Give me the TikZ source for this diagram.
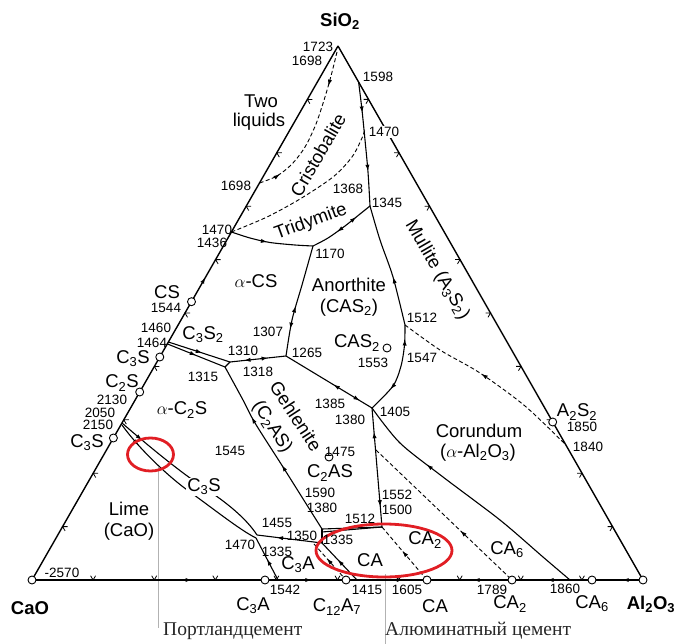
\documentclass[tikz,border=0pt]{standalone}
\usepackage{fontspec}
\setmainfont{Liberation Sans}
\newfontfamily\rufont{Liberation Serif}
\usetikzlibrary{arrows.meta,decorations.markings,calc}
\definecolor{ringred}{RGB}{225,30,36}
\newcommand\edgetick[3]{\draw[tickline] (#1) ++(#2) -- (#1) -- ++(#3);}
\begin{document}
\begin{tikzpicture}[x=1pt,y=-1pt,
  >={Latex[length=6.5pt,width=4.2pt]},
  edge/.style={line width=1.4pt},
  ln/.style={line width=1.1pt},
  dsh/.style={line width=0.9pt,dash pattern=on 4pt off 2.5pt},
  tickline/.style={line width=0.8pt},
  arr/.style={postaction={decorate,decoration={markings,mark=at position #1 with {\arrow{>}}}}},
  rarr/.style={postaction={decorate,decoration={markings,mark=at position #1 with {\arrowreversed{>}}}}},
  num/.style={font=\fontsize{13.5}{13.5}\selectfont,inner sep=0pt},
  lbl/.style={font=\fontsize{18.5}{18.5}\selectfont,inner sep=0pt},
  bld/.style={font=\fontsize{18.5}{18.5}\selectfont\bfseries,inner sep=0pt},
  ru/.style={font=\fontsize{19.5}{19.5}\selectfont\rufont,text=black!85,inner sep=0pt},
  pt/.style={circle,draw,fill=white,line width=0.9pt,minimum size=8pt,inner sep=0pt},
  ring/.style={draw=ringred,line width=2.8pt},
  guide/.style={draw=black!30,line width=0.8pt}]
\useasboundingbox (0,0) rectangle (677,644);

% ---- coordinates
\coordinate (C) at (32,580);
\coordinate (A) at (643,580);
\coordinate (S) at (338,46);
\coordinate (p1698L) at (259.5,183);
\coordinate (p1470L) at (231.4,232);
\coordinate (nCS) at (191.5,301.7);
\coordinate (p1464) at (168.4,342);
\coordinate (p1464b) at (167.5,344);
\coordinate (nC3Sb) at (159.8,357);
\coordinate (nC2S) at (139.7,392);
\coordinate (p2050) at (122,423);
\coordinate (p2050b) at (122,425);
\coordinate (nC3S) at (113.4,438);
\coordinate (p1598) at (358.6,82);
\coordinate (nA2S2) at (552.7,422);
\coordinate (p1840) at (565.9,445);
\coordinate (p1345) at (370,206);
\coordinate (p1170) at (313,246);
\coordinate (p1265) at (286,356);
\coordinate (p1310) at (230,362);
\coordinate (p1315) at (225,367);
\coordinate (p1512) at (405,325);
\coordinate (p1405) at (372,408);
\coordinate (p1475) at (376,450);
\coordinate (p1500) at (382,527);
\coordinate (p1590) at (322,529);
\coordinate (p1590b) at (322,532);
\coordinate (p1350) at (322,543);
\coordinate (p1455) at (257,535);
\coordinate (p1470b) at (256,538);
\coordinate (p1542) at (278,580);
\coordinate (p1415) at (357,580);
\coordinate (p1860) at (570,580);
\coordinate (nC3A) at (265,580);
\coordinate (nC12A7) at (346,580);
\coordinate (nCA) at (427,580);
\coordinate (nCA2) at (512,580);
\coordinate (nCA6) at (592,580);
\coordinate (nCAS2) at (387,348);
\coordinate (nC2AS) at (329,457);
\coordinate (d6s) at (314,544);
\coordinate (gp1) at (158,467);
\coordinate (gp2) at (158,628);
\coordinate (ga1) at (385,574);
\coordinate (ga2) at (385,644);

% ---- guide lines
\draw[guide] (gp1) -- (gp2);
\draw[guide] (ga1) -- (ga2);

% ---- triangle edges
\draw[edge,arr=0.567] (C) -- (S);
\draw[edge] (S) -- (A);
\draw[edge,arr=0.262,arr=0.458,rarr=0.589,rarr=0.722,rarr=0.843,rarr=0.966] (C) -- (A);
\foreach \k in {1,...,9}{
  \edgetick{$(C)!\k/10!(S)$}{5,0}{2.5,4.3}
  \edgetick{$(S)!\k/10!(A)$}{-5,0}{-2.5,4.3}
  \edgetick{$(C)!\k/10!(A)$}{-2.5,-4.3}{2.5,-4.3}
}

% ---- boundary curves
\draw[dsh,arr=0.22,rarr=0.86] plot[smooth] coordinates {(337,52) (331,76) (325,97) (316,124) (305,147) (292,164) (277,176) (p1698L)};
\draw[dsh] plot[smooth] coordinates {(p1470L) (267,217) (300,199) (333,177) (352,157) (362,138) (365,129)};
\draw[ln,arr=0.25,arr=0.72] plot[smooth] coordinates {(p1598) (362,110) (365,140) (368,172) (p1345)};
\draw[ln,arr=0.45] plot[smooth] coordinates {(p1470L) (250,238) (270,242.5) (295,245) (p1170)};
\draw[ln,rarr=0.4,arr=0.75] plot[smooth] coordinates {(p1170) (328,238) (345,226) (360,214) (p1345)};
\draw[ln,rarr=0.55,arr=0.76] plot[smooth] coordinates {(p1170) (302,285) (292,320) (p1265)};
\draw[ln,rarr=0.6] plot[smooth] coordinates {(p1345) (380,240) (393,277) (p1512)};
\draw[ln,rarr=0.15,arr=0.72] plot[smooth] coordinates {(p1512) (404.5,345) (401,366) (393,386) (p1405)};
\draw[dsh,rarr=0.45] plot[smooth] coordinates {(p1512) (440,350) (480,373) (525,406) (p1840)};
\draw[ln,rarr=0.55,arr=0.86] (p1265) -- (p1405);
\draw[ln,rarr=0.3] plot[smooth] coordinates {(p1405) (400,443) (443,477) (500,520) (543,557) (p1860)};
\draw[ln,rarr=0.2,arr=0.83] (p1405) -- (p1500);
\draw[dsh,rarr=0.62] (p1475) -- (nCA2);
\draw[dsh,rarr=0.45] (p1500) -- (nCA);
\draw[ln,rarr=0.25,arr=0.68] (p1310) -- (p1265);
\draw[ln,arr=0.55] (p1464) -- (p1310);
\draw[ln,arr=0.5] (p1464b) -- (p1315);
\draw[ln] (p1315) -- (p1310);
\draw[ln,rarr=0.3,rarr=0.6] plot[smooth] coordinates {(p1315) (243,400) (255,423) (283,467) (305,502) (p1590)};
\draw[ln] (p1590) -- (p1350);
\draw[ln] (p1590) -- (p1500);
\draw[ln] (p1590b) -- (p1500);
\draw[ln,arr=0.15] (p2050) .. controls (145,443) and (180,472) .. (203,487) .. controls (226,502) and (246,518) .. (p1455);
\draw[ln,arr=0.15] (p2050b) .. controls (140,450) and (170,478) .. (190,492) .. controls (215,510) and (240,530) .. (p1470b);
\draw[ln,rarr=0.3] (p1455) -- (p1350);
\draw[ln,rarr=0.5] (p1470b) -- (p1542);
\draw[dsh,rarr=0.4] (d6s) -- (nC12A7);
\draw[ln,rarr=0.45] (p1350) -- (p1415);

% ---- composition points
\foreach \p in {C,A,nCS,nC3Sb,nC2S,nC3S,nA2S2,nC3A,nC12A7,nCA,nCA2,nCA6,nCAS2,nC2AS}
  \node[pt] (c\p) at (\p) {};

% ---- red rings
\draw[ring] (150.5,454.5) ellipse [x radius=23, y radius=16.5];
\draw[ring] (384,550.5) ellipse [x radius=68, y radius=26.5];

% ---- region labels
\node[lbl] (tTwo) at (261,101) {Two};
\node[lbl] (tliq) at (259,122) {liquids};
\node[lbl,rotate=60] (tcri) at (318,155) {Cristobalite};
\node[lbl,rotate=20] (ttri) at (311,222) {Tridymite};
\node[lbl,rotate=-60] (tmul) at (437,270) {Mullite (A\textsubscript{3}S\textsubscript{2})};
\node[lbl] (taCS) at (256,281) {$\alpha$-CS};
\node[lbl] (tano) at (349,285) {Anorthite};
\node[lbl] (tano2) at (349,308) {(CAS\textsubscript{2})};
\node[lbl,rotate=-57] (tgeh) at (296,416) {Gehlenite};
\node[lbl,rotate=-57] (tgeh2) at (272,427) {(C\textsubscript{2}AS)};
\node[lbl] (taC2S) at (182,410) {$\alpha$-C\textsubscript{2}S};
\node[lbl,fill=white,inner sep=1pt] (tC3Si) at (204,487) {C\textsubscript{3}S};
\node[lbl] (tlime) at (129,509) {Lime};
\node[lbl] (tlime2) at (129,532) {(CaO)};
\node[lbl] (tcor) at (479,431) {Corundum};
\node[lbl] (tcor2) at (478,453) {($\alpha$-Al\textsubscript{2}O\textsubscript{3})};
\node[lbl] (tCAS2) at (357,343) {CAS\textsubscript{2}};
\node[lbl] (tC2AS) at (330,473) {C\textsubscript{2}AS};
\node[lbl] (tC3S2) at (203,335) {C\textsubscript{3}S\textsubscript{2}};
\node[lbl] (tCS) at (167,292) {CS};
\node[lbl] (tC3Sb) at (133,359) {C\textsubscript{3}S};
\node[lbl] (tC2S) at (122,383) {C\textsubscript{2}S};
\node[lbl] (tC3S) at (87,443) {C\textsubscript{3}S};
\node[lbl] (tC3Ai) at (298,565) {C\textsubscript{3}A};
\node[lbl] (tCAi) at (370,560) {CA};
\node[lbl] (tCA2i) at (425,540) {CA\textsubscript{2}};
\node[lbl] (tCA6i) at (507,550) {CA\textsubscript{6}};
\node[lbl] (tA2S2) at (577,412) {A\textsubscript{2}S\textsubscript{2}};

% ---- bottom labels
\node[bld] (tSiO2) at (340,21) {SiO\textsubscript{2}};
\node[bld] (tCaO) at (30,608) {CaO};
\node[bld] (tAl) at (651,604) {Al\textsubscript{2}O\textsubscript{3}};
\node[lbl] (bC3A) at (253,606) {C\textsubscript{3}A};
\node[lbl] (bC12A7) at (337,607) {C\textsubscript{12}A\textsubscript{7}};
\node[lbl] (bCA) at (435,606) {CA};
\node[lbl] (bCA2) at (510,604) {CA\textsubscript{2}};
\node[lbl] (bCA6) at (592,604) {CA\textsubscript{6}};
\node[ru,anchor=west] (rPort) at (163,631) {Портландцемент};
\node[ru,anchor=west] (rAlu) at (385,631) {Алюминатный цемент};

% ---- temperatures
\node[num] (n1723) at (318,47) {1723};
\node[num] (n1698t) at (307,61) {1698};
\node[num] (n1598) at (378,77) {1598};
\node[num,fill=white,inner sep=1pt] (n1470r) at (384,132) {1470};
\node[num] (n1698l) at (236,186) {1698};
\node[num] (n1368) at (348,189) {1368};
\node[num] (n1345) at (387,203) {1345};
\node[num] (n1470l) at (217,230) {1470};
\node[num] (n1436) at (212,243) {1436};
\node[num] (n1170) at (330,254) {1170};
\node[num] (n1544) at (166,308) {1544};
\node[num] (n1307) at (268,332) {1307};
\node[num] (n1265) at (307,353) {1265};
\node[num] (n1460) at (156,328) {1460};
\node[num] (n1464) at (152,343) {1464};
\node[num] (n1310) at (243,351) {1310};
\node[num] (n1318) at (258,372) {1318};
\node[num] (n1315) at (203,377) {1315};
\node[num] (n2130) at (112,400) {2130};
\node[num] (n2050) at (100,413) {2050};
\node[num] (n2150) at (98,425) {2150};
\node[num] (n1512a) at (422,318) {1512};
\node[num] (n1547) at (422,358) {1547};
\node[num] (n1553) at (373,363) {1553};
\node[num] (n1385) at (330,404) {1385};
\node[num] (n1405) at (395,412) {1405};
\node[num] (n1380a) at (350,420) {1380};
\node[num] (n1475) at (340,452) {1475};
\node[num] (n1545) at (230,451) {1545};
\node[num] (n1552) at (397,495) {1552};
\node[num] (n1500) at (397,510) {1500};
\node[num] (n1590) at (320,493) {1590};
\node[num] (n1380b) at (322,508) {1380};
\node[num] (n1512b) at (360,519) {1512};
\node[num] (n1455) at (277,523) {1455};
\node[num] (n1350) at (302,536) {1350};
\node[num] (n1335a) at (338,540) {1335};
\node[num] (n1470b) at (240,545) {1470};
\node[num] (n1335b) at (277,552) {1335};
\node[num] (n2570) at (62,573) {-2570};
\node[num] (n1542) at (285,590) {1542};
\node[num] (n1415) at (367,590) {1415};
\node[num] (n1605) at (407,590) {1605};
\node[num] (n1789) at (492,590) {1789};
\node[num] (n1860) at (565,589) {1860};
\node[num] (n1850) at (582,427) {1850};
\node[num] (n1840) at (588,447) {1840};
\end{tikzpicture}
\end{document}
